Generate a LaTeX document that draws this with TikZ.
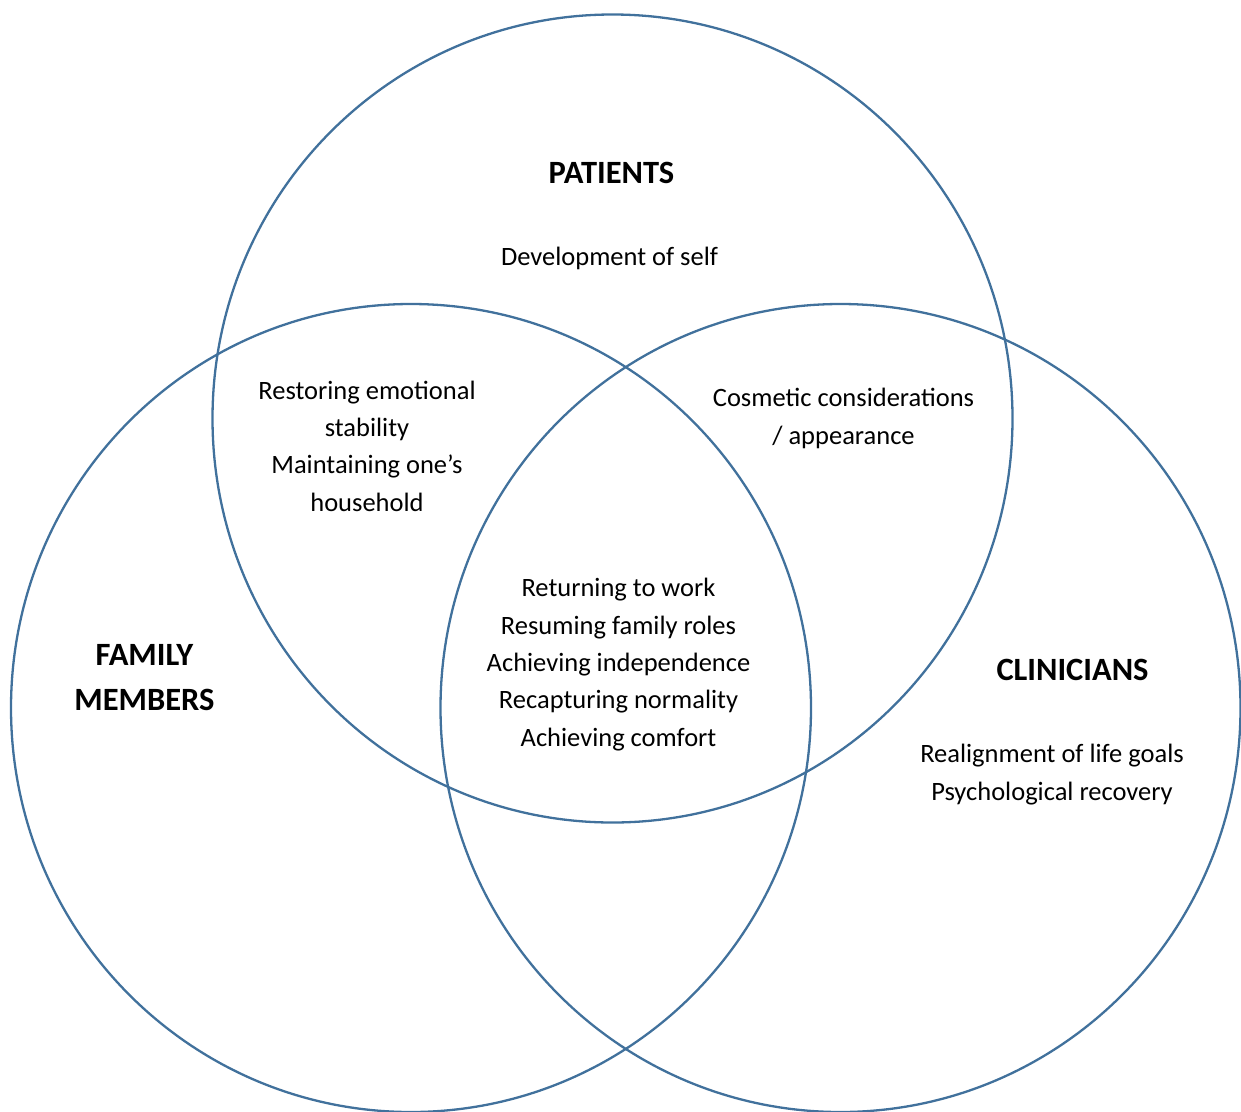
\documentclass[tikz,border=0pt]{standalone}
\usepackage{fontspec}
\setmainfont{Carlito}
\usetikzlibrary{shapes.geometric}
\definecolor{ringblue}{HTML}{41719C}
\tikzset{
  ring/.style={ellipse, draw=ringblue, line width=2.3pt, minimum width=800pt, minimum height=808pt, inner sep=0pt},
  body/.style={anchor=base, align=center, inner sep=0pt, font={\fontsize{26.5}{37.3}\selectfont}},
  head/.style={anchor=base, align=center, inner sep=0pt, font={\fontsize{32.5}{45}\selectfont\bfseries}}
}
\begin{document}
\begin{tikzpicture}[x=1pt, y=-1pt]
\useasboundingbox (0,0) rectangle (1241,1111);
\node[ring] (patients) at (612.5,418.5) {};
\node[ring] (family) at (411,708) {};
\node[ring] (clinicians) at (840.5,708) {};
\node[head] (pt) at (611.5,183) {PATIENTS};
\node[body] (dev) at (609.5,265) {Development of self};
\node[body] (pf) at (367,511) {Restoring emotional\\stability\\Maintaining one’s\\household};
\node[body] (pc) at (843.5,444) {Cosmetic considerations\\/ appearance};
\node[body] (all) at (618.5,746) {Returning to work\\Resuming family roles\\Achieving independence\\Recapturing normality\\Achieving comfort};
\node[head] (fm) at (144.5,710) {FAMILY\\MEMBERS};
\node[head] (cl) at (1072.5,680) {CLINICIANS};
\node[body] (cg) at (1052,800) {Realignment of life goals\\Psychological recovery};
\end{tikzpicture}
\end{document}
